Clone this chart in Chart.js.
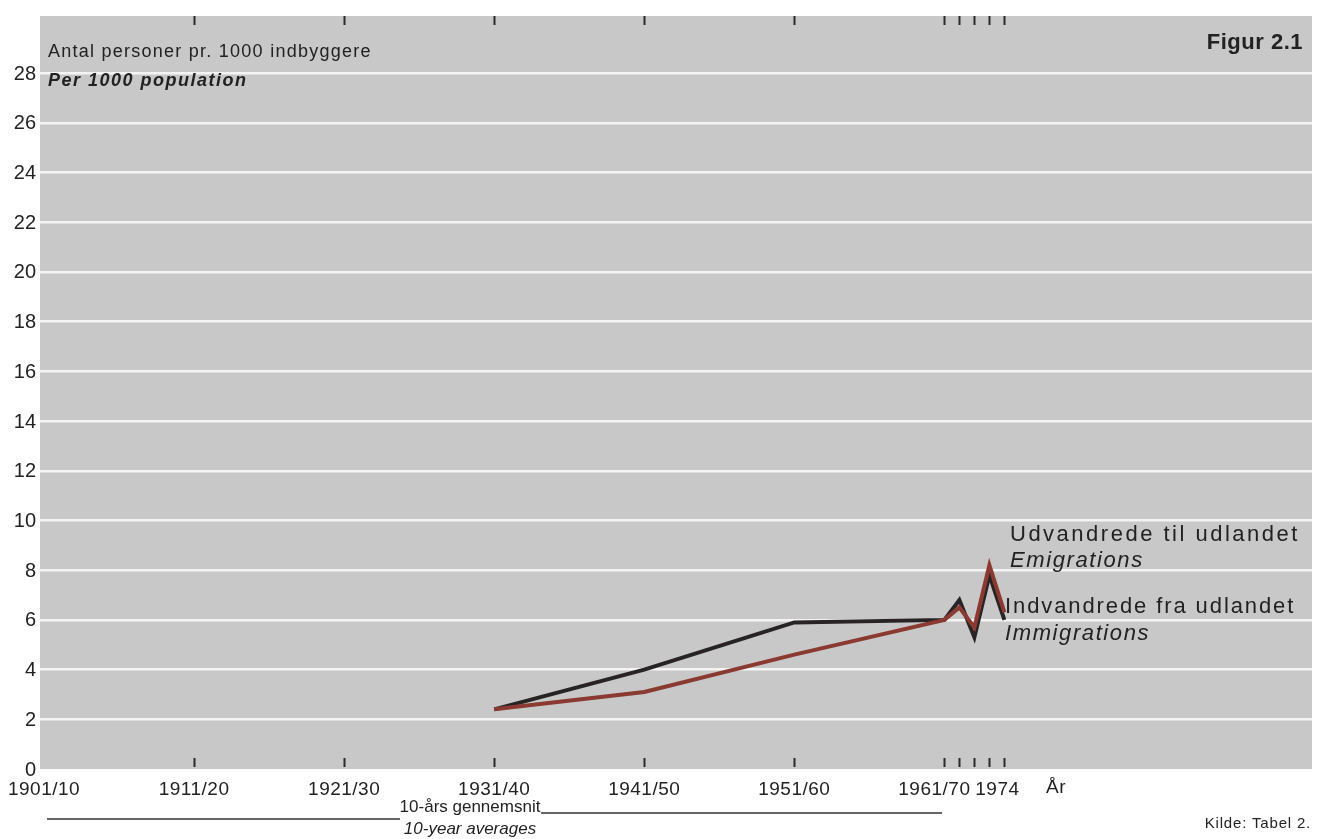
<!DOCTYPE html>
<html>
<head>
<meta charset="utf-8">
<script src="https://cdn.jsdelivr.net/npm/chart.js@4.4.1/dist/chart.umd.min.js"></script>
<style>
  html, body { margin: 0; padding: 0; background: #fff; }
  #wrap { width: 1317px; height: 839px; }
</style>
</head>
<body>
<div id="wrap"><canvas id="chart" width="1317" height="839"></canvas></div>
<script>
// periods on the (compressed) time axis: decades 10 units apart, single years 1 unit
const periods = ['1931/40', '1941/50', '1951/60', '1961/70', '1971', '1972', '1973', '1974'];
const periodAxis = [30, 40, 50, 60, 61, 62, 63, 64];
const emigrations = [2.4, 3.1, 4.6, 6.0, 6.5, 5.7, 8.2, 6.3];
const immigrations = [2.4, 4.0, 5.9, 6.0, 6.8, 5.3, 7.8, 6.0];

const xTickValues = [0, 10, 20, 30, 40, 50, 60, 61, 62, 63, 64];
const xTickLabels = ['1901/10', '1911/20', '1921/30', '1931/40', '1941/50', '1951/60', '1961/70', '', '', '', '1974'];
const yTicks = [0, 2, 4, 6, 8, 10, 12, 14, 16, 18, 20, 22, 24, 26, 28];

const FONT = '"Liberation Sans", Arial, Helvetica, sans-serif';

const pts = vals => periodAxis.map((x, i) => ({ x, y: vals[i] }));

// grey paper behind the plot
const paper = {
  id: 'paper',
  beforeDraw(chart) {
    const { ctx, chartArea: a } = chart;
    ctx.save();
    ctx.fillStyle = '#c8c8c8';
    ctx.fillRect(a.left, a.top, a.right - a.left, a.bottom - a.top);
    ctx.restore();
  }
};

function txt(ctx, s, x, y, font, align, spacing) {
  ctx.font = font;
  ctx.textAlign = align || 'left';
  ctx.letterSpacing = (spacing || 0) + 'px';
  ctx.fillText(s, x, y);
}

// tick marks inside the plot (top and bottom) plus x labels and all the texts
const decor = {
  id: 'decor',
  afterDraw(chart) {
    const { ctx, chartArea: a } = chart;
    const xs = chart.scales.x;
    ctx.save();
    ctx.strokeStyle = '#2a2a2a';
    ctx.lineWidth = 2;
    xTickValues.forEach(v => {
      if (v === 0) return;
      const px = Math.round(xs.getPixelForValue(v)) + 0.5;
      ctx.beginPath();
      ctx.moveTo(px, a.top); ctx.lineTo(px, a.top + 9);
      ctx.moveTo(px, a.bottom - 11); ctx.lineTo(px, a.bottom - 2);
      ctx.stroke();
    });

    ctx.fillStyle = '#222';
    ctx.textBaseline = 'alphabetic';
    xTickValues.forEach((v, i) => {
      const lab = xTickLabels[i];
      if (!lab) return;
      let dx = 0;
      if (lab === '1961/70') dx = -10;
      if (lab === '1974') dx = -7;
      txt(ctx, lab, xs.getPixelForValue(v) + dx, 795, '19px ' + FONT, 'center', 0.5);
    });
    txt(ctx, 'År', 1046, 793, '19px ' + FONT, 'left', 0.5);

    // title
    txt(ctx, 'Figur 2.1', 1303, 49, 'bold 22px ' + FONT, 'right', 0.5);

    // y axis caption
    txt(ctx, 'Antal personer pr. 1000 indbyggere', 48, 57, '18px ' + FONT, 'left', 1.25);
    txt(ctx, 'Per 1000 population', 48, 86, 'italic bold 18px ' + FONT, 'left', 1.5);

    // series labels
    txt(ctx, 'Udvandrede til udlandet', 1010, 541, '22px ' + FONT, 'left', 2.5);
    txt(ctx, 'Emigrations', 1010, 567, 'italic 22px ' + FONT, 'left', 1.6);
    txt(ctx, 'Indvandrede fra udlandet', 1005, 613, '22px ' + FONT, 'left', 1.9);
    txt(ctx, 'Immigrations', 1005, 640, 'italic 22px ' + FONT, 'left', 1.6);

    // 10-year averages bracket
    txt(ctx, '10-års gennemsnit', 470, 812, '17px ' + FONT, 'center', 0);
    txt(ctx, '10-year averages', 470, 834, 'italic 17px ' + FONT, 'center', 0);
    ctx.strokeStyle = '#333';
    ctx.lineWidth = 1.5;
    ctx.beginPath();
    ctx.moveTo(47, 819); ctx.lineTo(400, 819);
    ctx.moveTo(541, 813); ctx.lineTo(942, 813);
    ctx.stroke();

    txt(ctx, 'Kilde: Tabel 2.', 1311, 828, '15px ' + FONT, 'right', 0.8);
    ctx.restore();
  }
};

new Chart(document.getElementById('chart'), {
  type: 'line',
  data: {
    datasets: [
      {
        label: 'Udvandrede til udlandet',
        data: pts(emigrations),
        borderColor: '#8a3a30',
        borderWidth: 4,
        pointRadius: 0,
        tension: 0
      },
      {
        label: 'Indvandrede fra udlandet',
        data: pts(immigrations),
        borderColor: '#282426',
        borderWidth: 4,
        pointRadius: 0,
        tension: 0
      }
    ]
  },
  options: {
    responsive: false,
    animation: false,
    devicePixelRatio: 1,
    layout: { padding: { top: 10, right: 5, left: 0, bottom: 0 } },
    plugins: { legend: { display: false }, tooltip: { enabled: false } },
    scales: {
      x: {
        type: 'linear',
        min: -0.27,
        max: 84.5,
        afterBuildTicks: s => { s.ticks = xTickValues.map(v => ({ value: v })); },
        afterFit: s => { s.height = 70; },
        ticks: { display: false },
        grid: { display: false },
        border: { display: false }
      },
      y: {
        min: 0,
        max: 30.3,
        afterBuildTicks: s => { s.ticks = yTicks.map(v => ({ value: v })); },
        afterFit: s => { s.width = 40; },
        ticks: {
          color: '#222',
          font: { family: FONT, size: 20 },
          padding: 4,
          labelOffset: 1
        },
        grid: {
          color: c => (c.tick && c.tick.value === 0 ? 'rgba(0,0,0,0)' : '#f4f4f4'),
          lineWidth: 2.5,
          drawTicks: false
        },
        border: { display: false }
      }
    }
  },
  plugins: [paper, decor]
});
</script>
</body>
</html>
